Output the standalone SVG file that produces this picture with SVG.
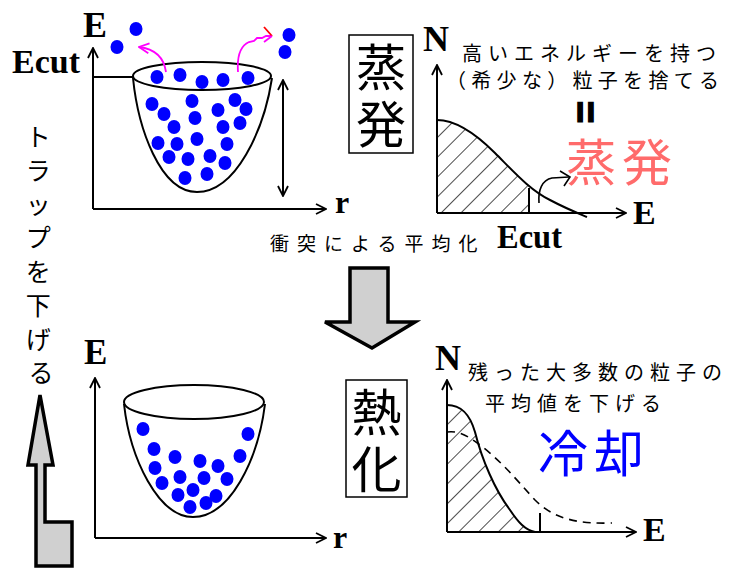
<svg xmlns="http://www.w3.org/2000/svg" width="746" height="570" viewBox="0 0 746 570">
  <style>
    .ax { fill: none; stroke: #000; stroke-width: 2; }
    .ln { fill: none; stroke: #000; stroke-width: 2; }
    .lbl { font-family: "Liberation Serif", "Times New Roman", serif; font-weight: bold; fill: #000; }
    .jp { font-family: "Noto Sans CJK JP", "Noto Sans", sans-serif; fill: #000; }
    .p { fill: #0000ff; }
    .big { fill: #d0d0d0; stroke: #000; stroke-width: 3.5; stroke-linejoin: miter; }
    .mg { fill: none; stroke: #ff00ff; stroke-width: 1.8; }
  </style>
  <defs>
    <marker id="open" viewBox="0 0 12 12" refX="11" refY="6" markerWidth="12" markerHeight="12" markerUnits="userSpaceOnUse" orient="auto-start-reverse">
      <path d="M1,1 L11,6 L1,11" fill="none" stroke="#000" stroke-width="1.8"/>
    </marker>
    <marker id="openm" viewBox="0 0 12 12" refX="11" refY="6" markerWidth="12" markerHeight="12" markerUnits="userSpaceOnUse" orient="auto">
      <path d="M1,1 L11,6 L1,11" fill="none" stroke="#ff00ff" stroke-width="1.8"/>
    </marker>
    <pattern id="hatch" width="14" height="14" patternUnits="userSpaceOnUse" patternTransform="rotate(45)">
      <line x1="0" y1="0" x2="0" y2="14" stroke="#000" stroke-width="1.4"/>
    </pattern>
    <clipPath id="cutTop">
      <rect x="430" y="100" width="99" height="120"/>
    </clipPath>
  </defs>

  <!-- top-left: trap with evaporating particles -->
  <g id="trap-evaporation">
    <text class="lbl" x="83" y="37" font-size="36">E</text>
    <text class="lbl" x="12" y="73" font-size="34" textLength="68" lengthAdjust="spacingAndGlyphs">Ecut</text>
    <text class="lbl" x="335" y="213" font-size="32">r</text>
    <path class="ax" d="M93,209 V48" marker-end="url(#open)"/>
    <path class="ax" d="M93,209 H326" marker-end="url(#open)"/>
    <path class="ln" d="M93,77 H134"/>
    <path class="ln" d="M283,80 V196" marker-start="url(#open)" marker-end="url(#open)"/>
    <ellipse class="ln" cx="202" cy="76" rx="69" ry="14"/>
    <path class="ln" d="M133,78 C138,128 160,192 197,192 C236,192 264,130 272,78"/>
    <g>
      <ellipse class="p" cx="157" cy="77" rx="6.5" ry="7"/>
      <ellipse class="p" cx="180" cy="75" rx="6.5" ry="7"/>
      <ellipse class="p" cx="202" cy="82" rx="6.5" ry="7"/>
      <ellipse class="p" cx="223" cy="80" rx="6.5" ry="7"/>
      <ellipse class="p" cx="248" cy="78" rx="6.5" ry="7"/>
      <ellipse class="p" cx="152" cy="104" rx="6.5" ry="7"/>
      <ellipse class="p" cx="164" cy="114" rx="6.5" ry="7"/>
      <ellipse class="p" cx="192" cy="101" rx="6.5" ry="7"/>
      <ellipse class="p" cx="195" cy="118" rx="6.5" ry="7"/>
      <ellipse class="p" cx="218" cy="110" rx="6.5" ry="7"/>
      <ellipse class="p" cx="235" cy="100" rx="6.5" ry="7"/>
      <ellipse class="p" cx="246" cy="109" rx="6.5" ry="7"/>
      <ellipse class="p" cx="240" cy="123" rx="6.5" ry="7"/>
      <ellipse class="p" cx="174" cy="127" rx="6.5" ry="7"/>
      <ellipse class="p" cx="223" cy="127" rx="6.5" ry="7"/>
      <ellipse class="p" cx="158" cy="143" rx="6.5" ry="7"/>
      <ellipse class="p" cx="177" cy="144" rx="6.5" ry="7"/>
      <ellipse class="p" cx="197" cy="139" rx="6.5" ry="7"/>
      <ellipse class="p" cx="227" cy="144" rx="6.5" ry="7"/>
      <ellipse class="p" cx="169" cy="157" rx="6.5" ry="7"/>
      <ellipse class="p" cx="188" cy="159" rx="6.5" ry="7"/>
      <ellipse class="p" cx="210" cy="156" rx="6.5" ry="7"/>
      <ellipse class="p" cx="225" cy="163" rx="6.5" ry="7"/>
      <ellipse class="p" cx="185" cy="178" rx="6.5" ry="7"/>
      <ellipse class="p" cx="207" cy="174" rx="6.5" ry="7"/>
      <ellipse class="p" cx="136" cy="29" rx="6.5" ry="7"/>
      <ellipse class="p" cx="117" cy="47" rx="6.5" ry="7"/>
      <ellipse class="p" cx="289" cy="35" rx="6.5" ry="7"/>
      <ellipse class="p" cx="285" cy="52" rx="6.5" ry="7"/>
    </g>
    <path class="mg" d="M166,72 C164,58 155,49 139,47" marker-end="url(#openm)"/>
    <path class="mg" d="M238,72 C237,58 240,46 249,42 L254,41 L257,38 L262,38 L266,36 L272,36"/>
    <path d="M272,36 L264,27" fill="none" stroke="#ff0000" stroke-width="1.8"/>
    <path d="M272,36 L264,42" fill="none" stroke="#ff00ff" stroke-width="1.8"/>
  </g>

  <!-- evaporation label -->
  <g id="label-evaporation">
    <rect x="349" y="35" width="64" height="118" fill="none" stroke="#000" stroke-width="1.5"/>
    <text class="jp" x="381" y="86" font-size="50" text-anchor="middle">蒸</text>
    <text class="jp" x="381" y="143" font-size="50" text-anchor="middle">発</text>
  </g>

  <!-- top-right: energy distribution with cut -->
  <g id="dist-evaporation">
    <text class="lbl" x="423" y="51" font-size="36">N</text>
    <text class="lbl" x="633" y="224" font-size="34">E</text>
    <path class="ax" d="M437,213 V65" marker-end="url(#open)"/>
    <path class="ax" d="M437,213 H626" marker-end="url(#open)"/>
    <g clip-path="url(#cutTop)">
      <path d="M437,213 V120 C455,120 475,133 495,153 C515,173 530,190 550,200 C565,208 575,212 587,217 L587,213 Z" fill="url(#hatch)"/>
    </g>
    <path class="ln" d="M437,120 C455,120 475,133 495,153 C515,173 530,190 550,200 C565,208 575,212 587,217"/>
    <path class="ln" d="M529,188 V213"/>
    <path d="M539,203 C538,190 542,180 552,178 L569,177" fill="none" stroke="#000" stroke-width="1.6"/>
    <path d="M560,171 L570,177 L564,186" fill="none" stroke="#000" stroke-width="1.6"/>
    <text class="jp" x="462" y="61" font-size="20" letter-spacing="6">高いエネルギーを持つ</text>
    <text class="jp" x="446" y="88" font-size="20" letter-spacing="5.3">（希少な）粒子を捨てる</text>
    <text x="585" y="112" font-family="Liberation Sans, sans-serif" font-weight="bold" font-size="38" text-anchor="middle" dominant-baseline="central" stroke="#000" stroke-width="1.6" transform="rotate(90 585 112)">=</text>
    <text class="jp" x="566" y="181" font-size="50" letter-spacing="6" style="fill:#ff6b6b">蒸発</text>
  </g>

  <!-- middle caption -->
  <g id="caption-collision">
    <text class="jp" x="270" y="251" font-size="19" letter-spacing="8">衝突による平均化</text>
    <text class="lbl" x="497" y="248" font-size="34" textLength="65" lengthAdjust="spacingAndGlyphs">Ecut</text>
  </g>

  <!-- big down arrow -->
  <g id="arrow-down">
    <polygon class="big" points="350,268 388,268 388,322 415,322 372,348 325,322 350,322"/>
  </g>

  <!-- left vertical label and arrow -->
  <g id="label-trap">
    <text class="jp" font-size="25" text-anchor="middle">
      <tspan x="41" y="146">ト</tspan>
      <tspan x="41" y="180">ラ</tspan>
      <tspan x="41" y="214">ッ</tspan>
      <tspan x="41" y="247">プ</tspan>
      <tspan x="41" y="281">を</tspan>
      <tspan x="41" y="315">下</tspan>
      <tspan x="41" y="349">げ</tspan>
      <tspan x="41" y="382">る</tspan>
    </text>
  </g>
  <g id="arrow-up">
    <polygon class="big" points="40,395 53,465 45,465 45,522 72,522 72,566 36,566 36,465 28,465"/>
  </g>

  <!-- bottom-left: cooled trap -->
  <g id="trap-thermal">
    <text class="lbl" x="84" y="364" font-size="35">E</text>
    <text class="lbl" x="333" y="548" font-size="32">r</text>
    <path class="ax" d="M95,538 V378" marker-end="url(#open)"/>
    <path class="ax" d="M95,538 H326" marker-end="url(#open)"/>
    <ellipse class="ln" cx="194" cy="402" rx="70" ry="17"/>
    <path class="ln" d="M124,404 C130,458 158,517 193,517 C230,517 258,460 265,404"/>
    <g>
      <ellipse class="p" cx="143" cy="429" rx="6.5" ry="7"/>
      <ellipse class="p" cx="248" cy="434" rx="6.5" ry="7"/>
      <ellipse class="p" cx="154" cy="449" rx="6.5" ry="7"/>
      <ellipse class="p" cx="175" cy="457" rx="6.5" ry="7"/>
      <ellipse class="p" cx="200" cy="461" rx="6.5" ry="7"/>
      <ellipse class="p" cx="218" cy="466" rx="6.5" ry="7"/>
      <ellipse class="p" cx="240" cy="456" rx="6.5" ry="7"/>
      <ellipse class="p" cx="155" cy="468" rx="6.5" ry="7"/>
      <ellipse class="p" cx="180" cy="477" rx="6.5" ry="7"/>
      <ellipse class="p" cx="204" cy="478" rx="6.5" ry="7"/>
      <ellipse class="p" cx="227" cy="479" rx="6.5" ry="7"/>
      <ellipse class="p" cx="162" cy="483" rx="6.5" ry="7"/>
      <ellipse class="p" cx="193" cy="490" rx="6.5" ry="7"/>
      <ellipse class="p" cx="216" cy="496" rx="6.5" ry="7"/>
      <ellipse class="p" cx="178" cy="495" rx="6.5" ry="7"/>
      <ellipse class="p" cx="206" cy="503" rx="6.5" ry="7"/>
      <ellipse class="p" cx="190" cy="507" rx="6.5" ry="7"/>
    </g>
  </g>

  <!-- thermalization label -->
  <g id="label-thermal">
    <rect x="346" y="380" width="61" height="117" fill="none" stroke="#000" stroke-width="1.5"/>
    <text class="jp" x="376.5" y="431" font-size="50" text-anchor="middle">熱</text>
    <text class="jp" x="376.5" y="488" font-size="50" text-anchor="middle">化</text>
  </g>

  <!-- bottom-right: cooled distribution -->
  <g id="dist-thermal">
    <text class="lbl" x="435" y="370" font-size="36">N</text>
    <text class="lbl" x="643" y="541" font-size="34">E</text>
    <path class="ax" d="M447,532 V380" marker-end="url(#open)"/>
    <path class="ax" d="M447,532 H636" marker-end="url(#open)"/>
    <path d="M447,532 V405 C462,405 470,415 475,432 C482,460 495,490 510,510 C518,522 525,530 535,532 Z" fill="url(#hatch)"/>
    <path class="ln" d="M447,405 C462,405 470,415 475,432 C482,460 495,490 510,510 C518,522 525,530 535,532"/>
    <path d="M447,432 C460,430 470,438 480,445 C500,460 515,478 535,500 C555,520 580,524 612,523" fill="none" stroke="#000" stroke-width="1.6" stroke-dasharray="8,6"/>
    <path class="ln" d="M540,513 V532"/>
    <text class="jp" x="468" y="380" font-size="20" letter-spacing="6">残った大多数の粒子の</text>
    <text class="jp" x="485" y="411" font-size="20" letter-spacing="6">平均値を下げる</text>
    <text class="jp" x="538" y="472" font-size="50" letter-spacing="6" style="fill:#0000ff">冷却</text>
  </g>
</svg>
